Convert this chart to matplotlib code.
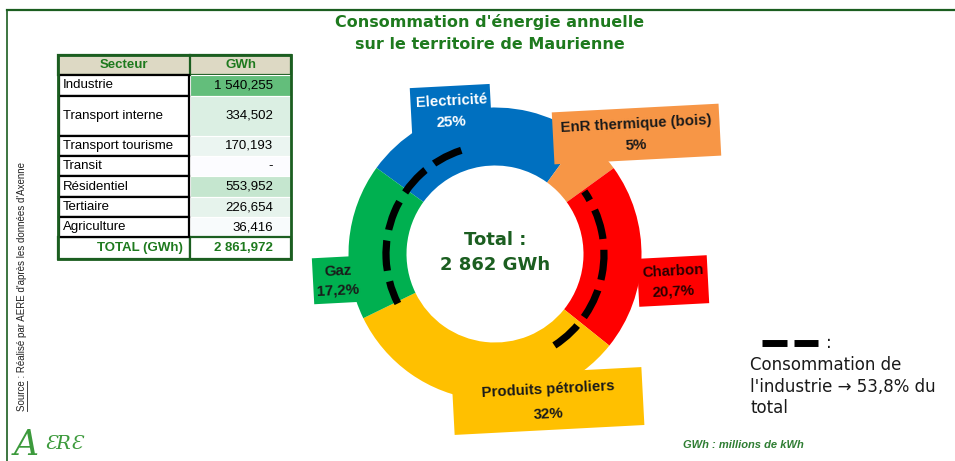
import numpy as np
import matplotlib.pyplot as plt
from matplotlib.patches import Rectangle, Arc
from matplotlib.colors import LinearSegmentedColormap, Normalize

W, H = 955, 461

# tableau par secteur (GWh)
secteurs = ['Industrie', 'Transport interne', 'Transport tourisme', 'Transit',
            'Résidentiel', 'Tertiaire', 'Agriculture']
gwh = [1540.255, 334.502, 170.193, 0.0, 553.952, 226.654, 36.416]
total_gwh = 2861.972

# anneau par source d'energie (%)
sources = ['Electricité', 'EnR thermique (bois)', 'Charbon', 'Produits pétroliers', 'Gaz']
parts = [25, 5, 20.7, 32, 17.2]
parts_txt = ['25%', '5%', '20,7%', '32%', '17,2%']
couleurs = ['#0070C0', '#F79646', '#FF0000', '#FFC000', '#00B050']

# part de l'industrie (trait pointille sur l'anneau, angles en degres)
industrie_pct = '53,8%'
arcs_industrie = [(108, 207), (-57, 35)]

VERT = '#1E7A1E'
VERT_FONCE = '#1B5E20'


def fr(v, dec=3):
    s = f"{v:,.{dec}f}"
    return s.replace(',', ' ').replace('.', ',')


def Y(y):
    return H - y


fig = plt.figure(figsize=(W / 100, H / 100), dpi=100)
ax = fig.add_axes([0, 0, 1, 1])

# ---- donut
cx, cy, R = 495, 254, 146.5
ax.pie(parts, colors=couleurs, startangle=144, counterclock=False,
       radius=R, center=(cx, Y(cy)), frame=True,
       wedgeprops=dict(width=58, edgecolor='none'))

for a1, a2 in arcs_industrie:
    ax.add_patch(Arc((cx, Y(cy)), 2 * 109, 2 * 109, theta1=a1, theta2=a2,
                     lw=5.2, color='black', linestyle=(0, (4.2, 1.5)),
                     capstyle='butt', zorder=5))

# etiquettes des sources (cadres legerement inclines)
boites = [(411, 86, 80, 50), (553, 108, 167, 52), (638, 257, 70, 48),
          (453, 372, 190, 58), (313, 257, 49, 46)]
txt_col = ['white', '#1a1a1a', '#2a0000', '#1a1a1a', '#1a1a1a']
for (bx, by, bw, bh), nom, pct, c, tc in zip(boites, sources, parts_txt, couleurs, txt_col):
    ax.add_patch(Rectangle((bx, Y(by + bh)), bw, bh, angle=3, rotation_point='center',
                           facecolor=c, edgecolor='none', zorder=3))
    mx = bx + bw / 2
    ax.text(mx, Y(by + bh * 0.3), nom, ha='center', va='center', rotation=3,
            fontsize=10.8, fontweight='bold', color=tc, family='Liberation Sans', zorder=4)
    ax.text(mx, Y(by + bh * 0.72), pct, ha='center', va='center', rotation=3,
            fontsize=10.8, fontweight='bold', color=tc, family='Liberation Sans', zorder=4)

ax.text(cx, Y(240), 'Total :', ha='center', va='center', fontsize=13,
        fontweight='bold', color=VERT_FONCE)
ax.text(cx, Y(265), fr(total_gwh, 0) + ' GWh', ha='center', va='center', fontsize=13,
        fontweight='bold', color=VERT_FONCE)

# ---- titre
ax.text(490, Y(22), "Consommation d'énergie annuelle", ha='center', va='center',
        fontsize=11.5, fontweight='bold', color=VERT)
ax.text(490, Y(45), "sur le territoire de Maurienne", ha='center', va='center',
        fontsize=11.5, fontweight='bold', color=VERT)

# ---- cadre
ax.plot([7, W], [Y(10), Y(10)], color=VERT_FONCE, lw=1.6)
ax.plot([7, 7], [Y(10), 0], color=VERT_FONCE, lw=1.2)

# ---- tableau
x0, x1, x2 = 58, 190, 291
haut_entete, haut_total = 20, 22
hauteurs = [21, 40, 20, 20, 21, 20, 20]
tops = 75 + np.concatenate([[0], np.cumsum(hauteurs)])
cmap = LinearSegmentedColormap.from_list('vert', ['#FCFCFF', '#63BE7B'])
norm = Normalize(vmin=0, vmax=max(gwh))
tfont = dict(family='Liberation Sans', fontsize=9.5)

ax.add_patch(Rectangle((x0, Y(75)), x2 - x0, haut_entete, facecolor='#DDD9C4',
                       edgecolor=VERT_FONCE, lw=1.6))
ax.plot([x1, x1], [Y(55), Y(75)], color=VERT_FONCE, lw=1.6)
ax.text((x0 + x1) / 2, Y(65), 'Secteur', ha='center', va='center', color=VERT,
        fontweight='bold', **tfont)
ax.text((x1 + x2) / 2, Y(65), 'GWh', ha='center', va='center', color=VERT,
        fontweight='bold', **tfont)

for i, (s, v) in enumerate(zip(secteurs, gwh)):
    t, b = tops[i], tops[i + 1]
    ax.add_patch(Rectangle((x1, Y(b)), x2 - x1, b - t, facecolor=cmap(norm(v)),
                           edgecolor='white', lw=0.8))
    ax.add_patch(Rectangle((x0 + 1, Y(b)), x1 - x0 - 2, b - t, facecolor='white',
                           edgecolor='black', lw=1.6, zorder=3))
    ax.text(x0 + 5, Y((t + b) / 2), s, ha='left', va='center', color='black', **tfont)
    ax.text(x2 - 18, Y((t + b) / 2), fr(v) if v > 0 else '-', ha='right', va='center',
            color='black', **tfont)

tb = tops[-1]
ax.add_patch(Rectangle((x0, Y(tb + haut_total)), x1 - x0, haut_total, facecolor='white',
                       edgecolor=VERT_FONCE, lw=1.6))
ax.add_patch(Rectangle((x1, Y(tb + haut_total)), x2 - x1, haut_total, facecolor='white',
                       edgecolor=VERT_FONCE, lw=1.6))
ax.text(x1 - 7, Y(tb + haut_total / 2), 'TOTAL (GWh)', ha='right', va='center',
        color=VERT, fontweight='bold', **tfont)
ax.text(x2 - 18, Y(tb + haut_total / 2), fr(total_gwh), ha='right', va='center',
        color=VERT, fontweight='bold', **tfont)
ax.add_patch(Rectangle((x0, Y(tb + haut_total)), x2 - x0, tb + haut_total - 55,
                       facecolor='none', edgecolor=VERT_FONCE, lw=2, zorder=4))

# ---- source (vertical)
ax.text(22, Y(411), "Source : Réalisé par AERE d'après les données d'Axenne",
        rotation=90, ha='center', va='bottom', fontsize=7, family='Liberation Sans',
        color='#222222')
ax.plot([27, 27], [Y(411), Y(381)], color='#222222', lw=0.6)

# ---- logo
ax.text(14, Y(445), 'A', fontsize=25, style='italic', family='DejaVu Serif',
        color='#3C9A3C', va='center', ha='left')
ax.text(44, Y(444), 'ƐRƐ', fontsize=14, style='italic', family='DejaVu Serif',
        color='#3C9A3C', va='center', ha='left')

# ---- unite
ax.text(683, Y(445), 'GWh : millions de kWh', fontsize=8, fontweight='bold',
        style='italic', family='Liberation Sans', color='#2E7D32', va='center', ha='left')

# ---- legende pointille
ax.plot([762, 787], [Y(343), Y(343)], color='black', lw=5, solid_capstyle='butt')
ax.plot([794, 818], [Y(343), Y(343)], color='black', lw=5, solid_capstyle='butt')
ax.text(826, Y(343), ':', fontsize=12, va='center', ha='left', color='#1a1a1a')
leg = ['Consommation de', "l'industrie → " + industrie_pct + ' du', 'total']
for k, ligne in enumerate(leg):
    ax.text(750, Y(365 + 21.5 * k), ligne, fontsize=12, va='center', ha='left',
            color='#1a1a1a')

ax.set_xlim(0, W)
ax.set_ylim(0, H)
ax.set_aspect('auto')
ax.axis('off')

fig.savefig('out.png', dpi=100, facecolor='white')
